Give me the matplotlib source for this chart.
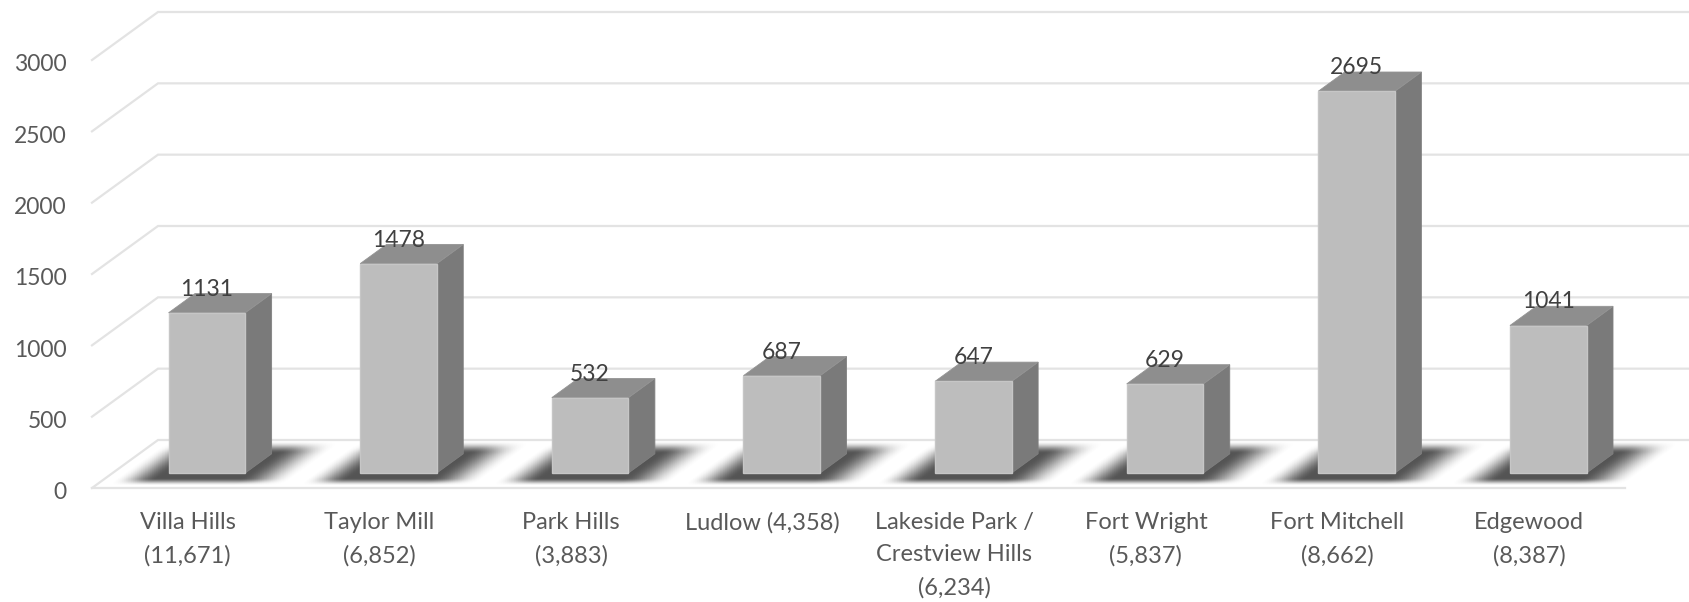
import matplotlib
matplotlib.use('Agg')
import matplotlib.pyplot as plt
import matplotlib.transforms as mtrans
import numpy as np

# --- data ---
categories = ['Villa Hills\n(11,671)', 'Taylor Mill\n(6,852)', 'Park Hills\n(3,883)', 'Ludlow (4,358)',
              'Lakeside Park /\nCrestview Hills\n(6,234)', 'Fort Wright\n(5,837)', 'Fort Mitchell\n(8,662)',
              'Edgewood\n(8,387)']
values = [1131, 1478, 532, 687, 647, 629, 2695, 1041]
y_ticks = [0, 500, 1000, 1500, 2000, 2500, 3000]

# --- layout, pixel numbers ---
W, H = 1690, 602
AX_LEFT, AX_RIGHT = 92, 1625
AX_BOTTOM, AX_TOP = 488, 60      # y=0 and y=3000, from the top of the picture
DEPTH_X = 66 / ((AX_RIGHT - AX_LEFT) / 8)    # back wall shift, in categories
DEPTH_Y = 48 / ((AX_BOTTOM - AX_TOP) / 3000)  # back wall shift, in value units
BAR_W = 0.40
BAR_SHIFT = -0.008
BAR_D0, BAR_D1 = 0.3125, 0.7125
BAR_SCALE = 0.993   # bars stand a little inside the wall, so they come out slightly shorter

plt.rcParams['font.family'] = ['Lato', 'DejaVu Sans']

fig = plt.figure(figsize=(W / 100, H / 100), dpi=100, facecolor='white')
ax = fig.add_axes([AX_LEFT / W, 1 - AX_BOTTOM / H, (AX_RIGHT - AX_LEFT) / W, (AX_BOTTOM - AX_TOP) / H])
ax.patch.set_visible(False)
for s in ax.spines.values():
    s.set_visible(False)


def proj(x, v, d):
    # depth d: 0 = front edge of the floor, 1 = back wall
    return x + d * DEPTH_X, v + d * DEPTH_Y


def ramp(t):
    t = np.clip(t, 0, 1)
    return t * t * (3 - 2 * t)


def floor_shadow(left, right):
    # blurred parallelogram lying on the floor, worked out in floor coordinates
    x0, x1 = left - 0.32, right + 0.35 + DEPTH_X
    v1 = DEPTH_Y
    xs = np.linspace(x0, x1, 400)
    vs = np.linspace(0, v1, 96)
    xx, vv = np.meshgrid(xs, vs)
    d = vv / DEPTH_Y
    u = xx - d * DEPTH_X
    a = (ramp((u - (left - 0.24)) / 0.22) * ramp(((right + 0.28) - u) / 0.27)
         * ramp((d - 0.05) / 0.16) * ramp((0.99 - d) / 0.26))
    rgba = np.zeros(a.shape + (4,))
    rgba[..., :3] = 0.33
    rgba[..., 3] = a
    ax.imshow(rgba, extent=(x0, x1, 0, v1), origin='lower', aspect='auto', interpolation='nearest',
              clip_on=False, zorder=2)


GRID = '#e3e3e3'
for t in y_ticks:
    x0, y0 = proj(0, t, 0)
    x1, y1 = proj(0, t, 1)
    x2, y2 = proj(8, t, 1)
    ax.plot([x0, x1, x2], [y0, y1, y2], color=GRID, lw=1.6, clip_on=False, zorder=1, solid_joinstyle='miter')
ax.plot([0, 8], [0, 0], color=GRID, lw=1.6, clip_on=False, zorder=1)

for i, val in enumerate(values):
    v = val * BAR_SCALE
    left = i + 0.5 - BAR_W / 2 + BAR_SHIFT
    right = i + 0.5 + BAR_W / 2 + BAR_SHIFT

    floor_shadow(left, right)

    front = [proj(left, 0, BAR_D0), proj(right, 0, BAR_D0), proj(right, v, BAR_D0), proj(left, v, BAR_D0)]
    side = [proj(right, 0, BAR_D0), proj(right, 0, BAR_D1), proj(right, v, BAR_D1), proj(right, v, BAR_D0)]
    top = [proj(left, v, BAR_D0), proj(right, v, BAR_D0), proj(right, v, BAR_D1), proj(left, v, BAR_D1)]
    ax.fill(*zip(*side), facecolor='#7a7a7a', edgecolor='#808080', lw=0.6, clip_on=False, zorder=3)
    ax.fill(*zip(*top), facecolor='#8e8e8e', edgecolor='#949494', lw=0.6, clip_on=False, zorder=3)
    ax.fill(*zip(*front), facecolor='#bdbdbd', edgecolor='#c6c6c6', lw=1.0, clip_on=False, zorder=4)

    ax.annotate(str(val), xy=proj((left + right) / 2, v, BAR_D0), xytext=(0, 17), textcoords='offset points',
                ha='center', va='center', fontsize=16.5, color='#404040', zorder=5, annotation_clip=False)

ax.set_xlim(0, 8)
ax.set_ylim(0, 3000)
ax.set_yticks(y_ticks)
ax.set_yticklabels([str(t) for t in y_ticks], fontsize=16.5, color='#595959')
ax.set_xticks(np.arange(8) + 0.5)
ax.set_xticklabels(categories, fontsize=17, color='#595959', linespacing=1.65)
ax.tick_params(axis='both', length=0)
ax.tick_params(axis='y', pad=18)
ax.tick_params(axis='x', pad=17.5)

# y labels sit a touch lower than the gridline ends
nudge = mtrans.ScaledTranslation(0, -2 / 72, fig.dpi_scale_trans)
for lab in ax.get_yticklabels():
    lab.set_transform(lab.get_transform() + nudge)

fig.savefig('out.png', dpi=100)
